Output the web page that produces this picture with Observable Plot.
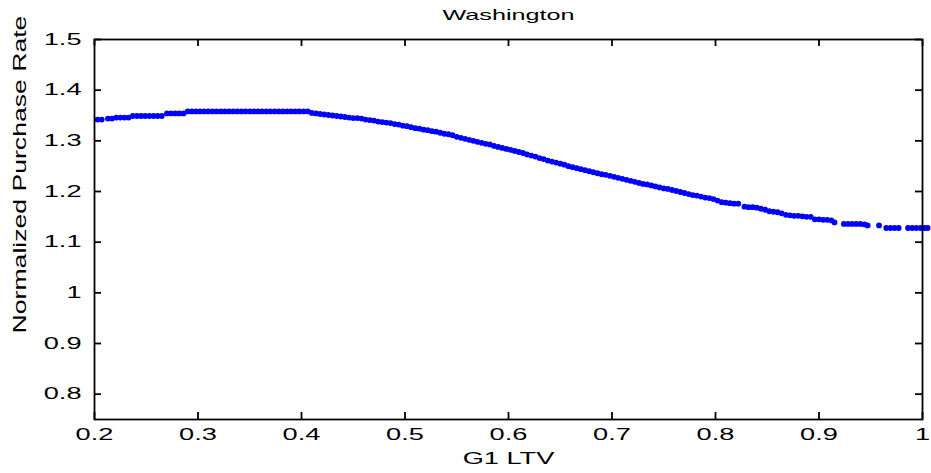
<!DOCTYPE html>
<html>
<head>
<meta charset="utf-8">
<script src="https://cdn.jsdelivr.net/npm/d3@7"></script>
<script src="https://cdn.jsdelivr.net/npm/@observablehq/plot@0.6"></script>
<style>
  html, body { margin: 0; padding: 0; background: #fff; }
</style>
</head>
<body>
<div id="chart"></div>
<script>
const title = "Washington";
const xLabel = "G1 LTV";
const yLabel = "Normalized Purchase Rate";
const xTicks = [0.2, 0.3, 0.4, 0.5, 0.6, 0.7, 0.8, 0.9, 1];
const yTicks = [0.8, 0.9, 1, 1.1, 1.2, 1.3, 1.4, 1.5];

const ltv = [
  0.203, 0.207,
  0.213, 0.217,
  0.221, 0.225, 0.229, 0.233,
  0.237, 0.241, 0.245, 0.249, 0.253, 0.257, 0.261, 0.265,
  0.270, 0.274, 0.278, 0.282, 0.286,
  0.290, 0.294, 0.298, 0.302, 0.306, 0.310, 0.314, 0.318, 0.322, 0.326,
  0.330, 0.334, 0.338, 0.342, 0.346, 0.350, 0.354, 0.358, 0.362, 0.366,
  0.370, 0.374, 0.378, 0.382, 0.386, 0.390, 0.394, 0.398, 0.402, 0.406,
  0.410, 0.414, 0.418, 0.422, 0.426, 0.430, 0.434, 0.438, 0.442, 0.446,
  0.450, 0.454, 0.458, 0.462, 0.466, 0.470, 0.474, 0.478, 0.482, 0.486,
  0.490, 0.494, 0.498, 0.502, 0.506, 0.510, 0.514, 0.518, 0.522, 0.526,
  0.530, 0.534, 0.538, 0.542, 0.546, 0.550, 0.554, 0.558, 0.562, 0.566,
  0.570, 0.574, 0.578, 0.582, 0.586, 0.590, 0.594, 0.598, 0.602, 0.606,
  0.610, 0.614, 0.618, 0.622, 0.626, 0.630, 0.634, 0.638, 0.642, 0.646,
  0.650, 0.654, 0.658, 0.662, 0.666, 0.670, 0.674, 0.678, 0.682, 0.686,
  0.690, 0.694, 0.698, 0.702, 0.706, 0.710, 0.714, 0.718, 0.722, 0.726,
  0.730, 0.734, 0.738, 0.742, 0.746, 0.750, 0.754, 0.758, 0.762, 0.766,
  0.770, 0.774, 0.778, 0.782, 0.786, 0.790, 0.794, 0.798, 0.802, 0.806,
  0.810, 0.814, 0.818, 0.822,
  0.828, 0.832, 0.836, 0.840, 0.844, 0.848, 0.852, 0.856, 0.860, 0.864,
  0.868, 0.872, 0.876, 0.880, 0.884, 0.888, 0.892, 0.896, 0.900, 0.904,
  0.908, 0.912, 0.915,
  0.924, 0.928, 0.932, 0.936, 0.940, 0.944, 0.947,
  0.958,
  0.965, 0.969, 0.973, 0.977,
  0.986, 0.990, 0.994, 0.998, 1.002, 1.005
];

const rate = [
  1.342, 1.342,
  1.344, 1.344,
  1.346, 1.346, 1.346, 1.346,
  1.349, 1.349, 1.349, 1.349, 1.349, 1.349, 1.349, 1.349,
  1.354, 1.354, 1.354, 1.354, 1.354,
  1.358, 1.358, 1.358, 1.358, 1.358, 1.358, 1.358, 1.358, 1.358, 1.358,
  1.358, 1.358, 1.358, 1.358, 1.358, 1.358, 1.358, 1.358, 1.358, 1.358,
  1.358, 1.358, 1.358, 1.358, 1.358, 1.358, 1.358, 1.358, 1.358, 1.358,
  1.355, 1.354, 1.353, 1.352, 1.351, 1.350, 1.349, 1.348, 1.347, 1.346,
  1.345, 1.345, 1.344, 1.342, 1.341, 1.340, 1.338, 1.337, 1.336, 1.335,
  1.333, 1.332, 1.330, 1.329, 1.327, 1.325, 1.324, 1.322, 1.321, 1.319,
  1.318, 1.316, 1.314, 1.313, 1.311, 1.308, 1.306, 1.304, 1.302, 1.300,
  1.298, 1.296, 1.294, 1.293, 1.290, 1.288, 1.286, 1.284, 1.282, 1.280,
  1.278, 1.276, 1.273, 1.271, 1.269, 1.266, 1.264, 1.261, 1.259, 1.257,
  1.255, 1.253, 1.250, 1.248, 1.246, 1.244, 1.242, 1.240, 1.238, 1.236,
  1.234, 1.233, 1.231, 1.229, 1.227, 1.225, 1.223, 1.221, 1.219, 1.217,
  1.215, 1.214, 1.212, 1.210, 1.208, 1.206, 1.205, 1.203, 1.201, 1.199,
  1.197, 1.195, 1.193, 1.192, 1.190, 1.188, 1.187, 1.185, 1.182, 1.179,
  1.178, 1.177, 1.176, 1.176,
  1.170, 1.169, 1.169, 1.168, 1.166, 1.164, 1.161, 1.160, 1.159, 1.157,
  1.154, 1.153, 1.152, 1.152, 1.151, 1.150, 1.150, 1.145, 1.145, 1.144,
  1.144, 1.143, 1.139,
  1.136, 1.136, 1.136, 1.136, 1.136, 1.135, 1.133,
  1.133,
  1.128, 1.128, 1.128, 1.128,
  1.128, 1.128, 1.128, 1.128, 1.128, 1.128
];

const points = ltv.map((x, i) => ({x, y: rate[i]}));
const fmt = d => String(+(+d).toFixed(1));

const W = 931, H = 473;
const mL = 94, mR = 9, mT = 39, mB = 54;
const frameW = W - mL - mR, frameH = H - mT - mB;
const TICK = 7;
const tickStyle = {stroke: "#000", strokeWidth: 1.8};

const plot = Plot.plot({
  width: W,
  height: H,
  marginLeft: mL,
  marginRight: mR,
  marginTop: mT,
  marginBottom: mB,
  style: {fontFamily: "'Liberation Sans', Arial, sans-serif", background: "#fff", color: "#000"},
  x: {domain: [0.2, 1], label: null, axis: null},
  y: {domain: [0.75, 1.5], label: null, axis: null},
  marks: [
    Plot.dot(points, {x: "x", y: "y", r: 2.9, fill: "#0000ff", stroke: null}),
    Plot.frame({stroke: "#000", strokeWidth: 1.8}),
    // inward tick marks on all four sides
    Plot.ruleX(xTicks, {...tickStyle, insetTop: frameH - TICK}),
    Plot.ruleX(xTicks, {...tickStyle, insetBottom: frameH - TICK}),
    Plot.ruleY(yTicks, {...tickStyle, insetRight: frameW - TICK}),
    Plot.ruleY(yTicks, {...tickStyle, insetLeft: frameW - TICK}),
    // tick labels
    Plot.text(xTicks, {x: d => d, text: fmt, frameAnchor: "bottom", textAnchor: "middle", lineAnchor: "top", dy: 9.5, fontSize: 16}),
    Plot.text(yTicks, {y: d => d, text: fmt, frameAnchor: "left", textAnchor: "end", lineAnchor: "middle", dx: -13, fontSize: 16}),
    // titles
    Plot.text([title], {text: d => d, frameAnchor: "top", textAnchor: "middle", lineAnchor: "top", dy: -29, fontSize: 14}),
    Plot.text([xLabel], {text: d => d, frameAnchor: "bottom", textAnchor: "middle", lineAnchor: "top", dy: 33, fontSize: 16}),
    Plot.text([yLabel], {text: d => d, frameAnchor: "left", textAnchor: "middle", rotate: -90, lineAnchor: "middle", dx: -75, dy: -55, fontSize: 19})
  ]
});

// Widen glyphs along the text direction to match the reference's wide lettering
plot.querySelectorAll("text").forEach(t => {
  const s = t.textContent;
  let k = 1.7;
  if (s === title) k = 1.8;
  else if (s === yLabel) k = 1.4;
  const tr = t.getAttribute("transform") || "";
  t.setAttribute("transform", (tr + ` scale(${k},1)`).trim());
});

document.getElementById("chart").appendChild(plot);
</script>
</body>
</html>
